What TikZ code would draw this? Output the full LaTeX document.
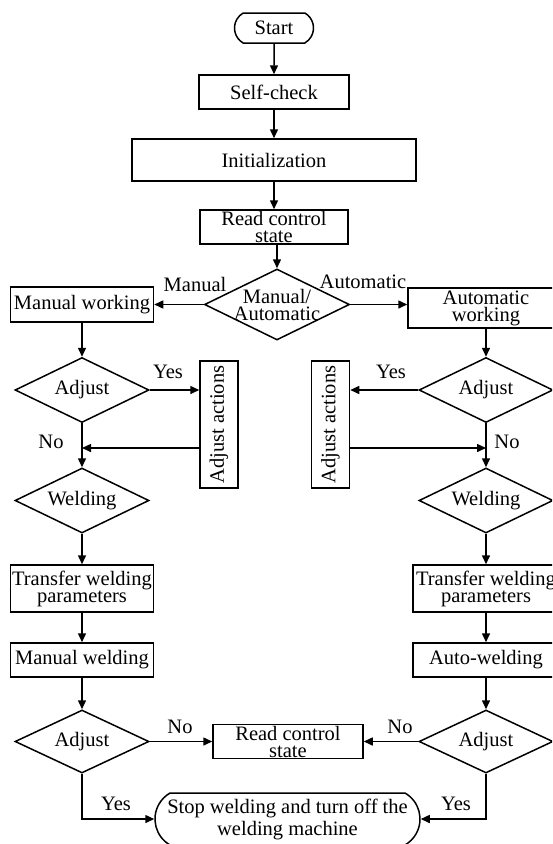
\documentclass[tikz,border=0pt]{standalone}
\usepackage{fontspec}
\setmainfont{Liberation Serif}
\usetikzlibrary{shapes.geometric, shapes.misc, arrows.meta}

\begin{document}
\begin{tikzpicture}[x = 1pt, y = -1pt,
  box/.style = {draw, line width = 1.5pt, inner sep = 0pt, align = center, font = \fontsize{20.5}{17}\selectfont},
  term/.style = {box, rounded rectangle, rounded rectangle arc length = 120},
  dia/.style = {box, diamond, shape aspect = 2, inner sep = -3pt, minimum width = 134pt, minimum height = 65pt},
  arr/.style = {line width = 1.5pt, -{Triangle[length = 9pt, width = 8pt]}},
  lbl/.style = {font = \fontsize{20.5}{17}\selectfont}]

\useasboundingbox (0, 0) rectangle (552, 844);
\clip (0, 0) rectangle (552, 844);

\node [term, minimum width = 79pt, minimum height = 30pt] (start) at (274, 28) {Start};
\node [box, minimum width = 150pt, minimum height = 34pt] (check) at (274, 92) {Self-check};
\node [box, minimum width = 284pt, minimum height = 42pt] (init) at (274, 160) {Initialization};
\node [box, minimum width = 148pt, minimum height = 34pt] (read) at (274, 227) {Read control\\state};
\node [dia, minimum width = 145pt, minimum height = 71pt] (mode) at (277, 304.5) {Manual/\\Automatic};
\node [box, minimum width = 143pt, minimum height = 35pt] (manual) at (82, 304.5) {Manual working};
\node [box, minimum width = 156pt, minimum height = 40pt] (auto) at (486, 308) {Automatic\\working};

\node [dia] (adjl) at (82, 390) {Adjust};
\node [box, minimum width = 38pt, minimum height = 127pt] (actl) at (219, 424.5) {\rotatebox{90}{Adjust actions}};
\node [dia] (weldl) at (82, 500.5) {Welding};
\node [box, minimum width = 143pt, minimum height = 47pt] (xferl) at (82, 588.5) {Transfer welding\\parameters};
\node [box, minimum width = 143pt, minimum height = 34pt] (mweld) at (82, 660) {Manual welding};
\node [dia, minimum height = 63pt] (endl) at (82, 741.5) {Adjust};

\node [dia] (adjr) at (486, 390) {Adjust};
\node [box, minimum width = 38pt, minimum height = 127pt] (actr) at (330.5, 424.5) {\rotatebox{90}{Adjust actions}};
\node [dia] (weldr) at (486, 500.5) {Welding};
\node [box, minimum width = 146pt, minimum height = 47pt] (xferr) at (486, 588.5) {Transfer welding\\parameters};
\node [box, minimum width = 146pt, minimum height = 34pt] (aweld) at (486, 660) {Auto-welding};
\node [dia, minimum height = 63pt] (endr) at (486, 741.5) {Adjust};

\node [box, minimum width = 150pt, minimum height = 34pt] (reread) at (288, 741.5) {Read control\\state};
\node [term, minimum width = 265pt, minimum height = 52pt, font = \fontsize{20.5}{22}\selectfont] (stop) at (287.5, 819) {Stop welding and turn off the\\welding machine};

\node [lbl] (lman) at (195, 284) {Manual}; \node [lbl] (lauto) at (363, 282) {Automatic};
\node [lbl] (yl) at (168, 372) {Yes}; \node [lbl] (yr) at (391, 372) {Yes};
\node [lbl] (nl) at (51, 442) {No}; \node [lbl] (nr) at (507, 442) {No};
\node [lbl] (nl2) at (180, 727) {No}; \node [lbl] (nr2) at (400, 727) {No};
\node [lbl] (yl2) at (116, 804) {Yes}; \node [lbl] (yr2) at (456, 804) {Yes};

\coordinate (retl) at (200, 448);
\coordinate (retr) at (349.5, 448);

\draw [arr] (start) -- (check);
\draw [arr] (check) -- (init);
\draw [arr] (init) -- (read);
\draw [arr] (mode.north |- read.south) -- (mode.north);
\draw [arr] (mode.west) -- (manual.east);
\draw [arr] (mode.east) -- (mode.east -| auto.west);

\draw [arr] (manual) -- (adjl);
\draw [arr] (adjl.east) -- (adjl.east -| actl.west);
\draw [arr] (retl) -- (retl -| adjl.south);
\draw [arr] (adjl) -- (weldl);
\draw [arr] (weldl) -- (xferl);
\draw [arr] (xferl) -- (mweld);
\draw [arr] (mweld) -- (endl);
\draw [arr] (endl.east) -- (endl.east -| reread.west);
\draw [arr] (endl.south) |- (stop.west);

\draw [arr] (auto) -- (adjr);
\draw [arr] (adjr.west) -- (adjr.west -| actr.east);
\draw [arr] (retr) -- (retr -| adjr.south);
\draw [arr] (adjr) -- (weldr);
\draw [arr] (weldr) -- (xferr);
\draw [arr] (xferr) -- (aweld);
\draw [arr] (aweld) -- (endr);
\draw [arr] (endr.west) -- (endr.west -| reread.east);
\draw [arr] (endr.south) |- (stop.east);
\end{tikzpicture}
\end{document}
